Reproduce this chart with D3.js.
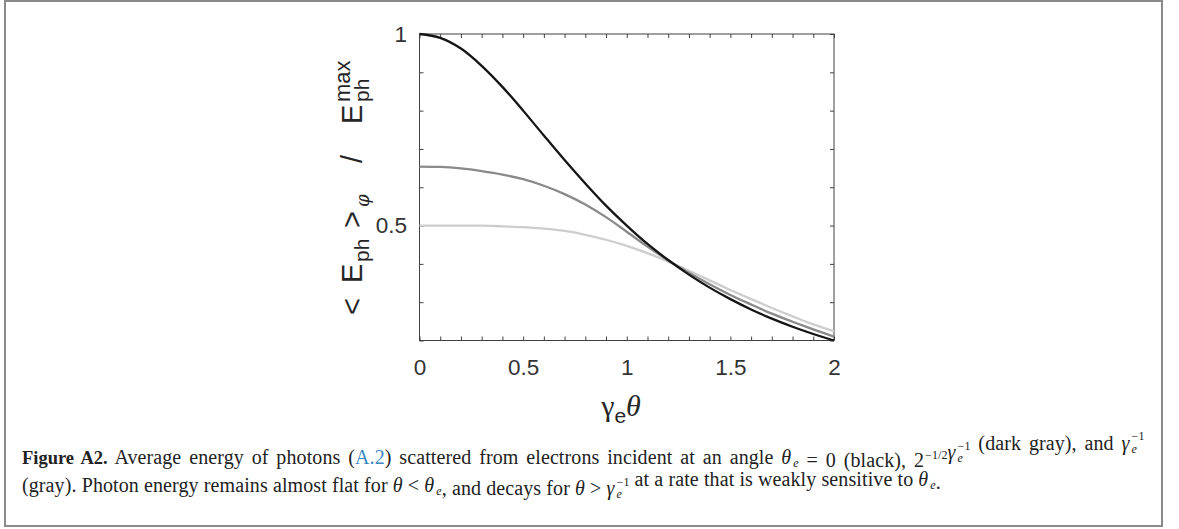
<!DOCTYPE html>
<html>
<head>
<meta charset="utf-8">
<script src="https://cdn.jsdelivr.net/npm/d3@7"></script>
<style>
  body { margin: 0; background: #fff; }
  svg { display: block; }
</style>
</head>
<body>
<div id="container"></div>
<script>
/* DATA */
const gammaTheta = [0, 0.1, 0.2, 0.3, 0.4, 0.5, 0.6, 0.7, 0.8, 0.9, 1.0,
  1.1, 1.2, 1.3, 1.4, 1.5, 1.6, 1.7, 1.8, 1.9, 2.0];
// theta_e = 0 (black)
const energyBlack = [1.000, 0.990, 0.962, 0.917, 0.862, 0.800, 0.735, 0.671, 0.610, 0.552, 0.500,
  0.452, 0.410, 0.372, 0.338, 0.308, 0.281, 0.257, 0.236, 0.217, 0.200];
// theta_e = 2^-1/2 / gamma (dark gray)
const energyDark = [0.654, 0.653, 0.649, 0.642, 0.633, 0.621, 0.604, 0.582, 0.555, 0.522, 0.484,
  0.445, 0.409, 0.377, 0.347, 0.319, 0.294, 0.270, 0.249, 0.229, 0.210];
// theta_e = 1 / gamma (gray)
const energyLight = [0.500, 0.500, 0.500, 0.500, 0.498, 0.496, 0.492, 0.486, 0.476, 0.463, 0.447,
  0.428, 0.406, 0.382, 0.357, 0.332, 0.308, 0.285, 0.263, 0.242, 0.224];

const xMajor = [0, 0.5, 1, 1.5, 2];
const xMinor = d3.range(0, 21).map(i => i / 10);
const yMajor = [0.5, 1];
const yMinor = d3.range(2, 11).map(i => i / 10);

/* CONSTANTS */
const width = 1179, height = 529;
const plot = { left: 419.5, right: 834, top: 34, bottom: 340.5 };

const svg = d3.select("#container")
  .append("svg")
  .attr("width", width)
  .attr("height", height);

// outer frame
svg.append("rect")
  .attr("x", 5).attr("y", 1)
  .attr("width", 1157).attr("height", 525)
  .attr("fill", "none")
  .attr("stroke", "#8a8a8a")
  .attr("stroke-width", 2);

/* SCALES */
const xScale = d3.scaleLinear()
  .domain([0, 2])
  .range([plot.left, plot.right]);

const yScale = d3.scaleLinear()
  .domain([0.2, 1])
  .range([plot.bottom, plot.top]);

/* AXES */
const axisColor = "#404040";
const sans = "'Liberation Sans', Arial, sans-serif";

const styleAxis = g => {
  g.select(".domain").remove();
  g.selectAll("line").attr("stroke", axisColor).attr("stroke-width", 1);
  g.selectAll("text")
    .attr("fill", "#333")
    .style("font-family", sans)
    .style("font-size", "22.5px");
};

svg.append("g")
  .attr("transform", `translate(0, ${plot.bottom})`)
  .call(d3.axisBottom(xScale).tickValues(xMinor).tickSize(-4).tickPadding(19)
    .tickFormat(d => xMajor.includes(+d.toFixed(1)) ? d3.format("")(+d.toFixed(1)) : ""))
  .call(styleAxis);

svg.append("g")
  .attr("transform", `translate(0, ${plot.top})`)
  .call(d3.axisTop(xScale).tickValues(xMinor).tickSize(-4).tickFormat(""))
  .call(styleAxis);

svg.append("g")
  .attr("transform", `translate(${plot.left}, 0)`)
  .call(d3.axisLeft(yScale).tickValues(yMinor).tickSize(-4).tickPadding(12.5)
    .tickFormat(d => yMajor.includes(+d.toFixed(1)) ? d3.format("")(+d.toFixed(1)) : ""))
  .call(styleAxis);

svg.append("g")
  .attr("transform", `translate(${plot.right}, 0)`)
  .call(d3.axisRight(yScale).tickValues(yMinor).tickSize(-4).tickFormat(""))
  .call(styleAxis);

// box
svg.append("rect")
  .attr("x", plot.left).attr("y", plot.top)
  .attr("width", plot.right - plot.left)
  .attr("height", plot.bottom - plot.top)
  .attr("fill", "none")
  .attr("stroke", axisColor)
  .attr("stroke-width", 1);

/* LINES */
const series = [
  { values: energyLight, color: "#cdcdcd" },
  { values: energyDark, color: "#8a8a8a" },
  { values: energyBlack, color: "#151515" }
];

const line = d3.line()
  .x((d, i) => xScale(gammaTheta[i]))
  .y(d => yScale(d))
  .curve(d3.curveMonotoneX);

svg.selectAll(".curve")
  .data(series)
  .join("path")
  .attr("class", "curve")
  .attr("d", d => line(d.values))
  .attr("fill", "none")
  .attr("stroke", d => d.color)
  .attr("stroke-width", 2.3);

/* AXIS LABELS */
// y label: < E_ph >_phi / E_ph^max, pieces laid along the rotated axis
const yLabelPieces = [
  { t: "<", at: 315, size: 29, shift: 0 },
  { t: "E", at: 283, size: 29, shift: 0 },
  { t: "ph", at: 262, size: 21, shift: 7 },
  { t: ">", at: 228, size: 29, shift: 0 },
  { t: "φ", at: 207, size: 18, shift: 7, serif: true },
  { t: "/", at: 163, size: 29, shift: 0 },
  { t: "E", at: 124, size: 29, shift: 0 },
  { t: "ph", at: 102, size: 21, shift: 7 },
  { t: "max", at: 102, size: 22, shift: -12 }
];

const yLab = svg.append("g")
  .attr("transform", "translate(362, 0) rotate(-90)");

yLab.selectAll("text")
  .data(yLabelPieces)
  .join("text")
  .attr("x", d => -d.at)
  .attr("y", d => d.shift)
  .attr("fill", "#262626")
  .style("font-family", d => d.serif ? "'DejaVu Serif', serif" : sans)
  .style("font-style", d => d.serif ? "italic" : "normal")
  .style("font-size", d => d.size + "px")
  .text(d => d.t);

// x label: gamma_e theta
const xLab = svg.append("text")
  .attr("x", 621).attr("y", 416)
  .attr("text-anchor", "middle")
  .attr("fill", "#262626")
  .style("font-family", "'Liberation Serif', serif")
  .style("font-size", "30px");
xLab.append("tspan").text("γ");
xLab.append("tspan").attr("dy", 7).style("font-family", sans).style("font-size", "21px").text("e");
xLab.append("tspan").attr("dy", -7).style("font-style", "italic").text("θ");

/* CAPTION */
const capFont = "'Liberation Serif', 'Times New Roman', serif";
const capSize = 20;
const small = "12px";

const writeRich = (x, y, parts, justifyTo) => {
  const t = svg.append("text")
    .attr("x", x).attr("y", y)
    .attr("fill", "#222")
    .style("font-family", capFont)
    .style("font-size", capSize + "px")
    .style("letter-spacing", "0.1px");
  parts.forEach(p => {
    if (p.stack) {
      // stacked subscript / superscript
      const sub = t.append("tspan").attr("dx", 2).attr("dy", 3).style("font-size", small)
        .style("font-style", "italic").text(p.stack[0]);
      const w = sub.node().getComputedTextLength();
      const sup = t.append("tspan").attr("dx", -w).attr("dy", -12.5).style("font-size", small)
        .text(p.stack[1]);
      const w2 = sup.node().getComputedTextLength();
      t.append("tspan").attr("dx", Math.max(0, w - w2)).attr("dy", 9.5).text("");
      return;
    }
    const s = t.append("tspan").text(p.t);
    if (p.bold) s.style("font-weight", "bold").style("font-size", "18.5px").style("letter-spacing", "0px");
    if (p.italic) s.style("font-style", "italic");
    if (p.color) s.attr("fill", p.color);
    if (p.sub) {
      s.attr("dx", 2).attr("dy", 3).style("font-size", small);
      t.append("tspan").attr("dy", -3).text("");
    }
    if (p.sup) {
      s.attr("dx", 1).attr("dy", -8).style("font-size", small);
      t.append("tspan").attr("dx", 2).attr("dy", 8).text("");
    }
  });
  if (justifyTo) {
    const bb = t.node().getBBox();
    const spaces = parts.filter(p => p.t).reduce((a, p) => a + (p.t.match(/ /g) || []).length, 0);
    const extra = justifyTo - (bb.x + bb.width);
    if (extra > 0) t.style("word-spacing", (extra / spaces) + "px");
  }
  return t;
};

writeRich(22, 464, [
  { t: "Figure A2.", bold: true },
  { t: " Average energy of photons (" },
  { t: "A.2", color: "#3a87c0" },
  { t: ") scattered from electrons incident at an angle " },
  { t: "θ", italic: true }, { t: "e", italic: true, sub: true },
  { t: "  =  0 (black), 2" }, { t: "−1/2", sup: true },
  { t: "γ", italic: true }, { stack: ["e", "−1"] },
  { t: " (dark gray), and " },
  { t: "γ", italic: true }, { stack: ["e", "−1"] }
], 1150);

writeRich(22, 492, [
  { t: "(gray). Photon energy remains almost flat for " },
  { t: "θ", italic: true }, { t: "  <  " },
  { t: "θ", italic: true }, { t: "e", italic: true, sub: true },
  { t: ", and decays for " },
  { t: "θ", italic: true }, { t: " > " },
  { t: "γ", italic: true }, { stack: ["e", "−1"] },
  { t: " at a rate that is weakly sensitive to " },
  { t: "θ", italic: true }, { t: "e", italic: true, sub: true },
  { t: "." }
]);
</script>
</body>
</html>
